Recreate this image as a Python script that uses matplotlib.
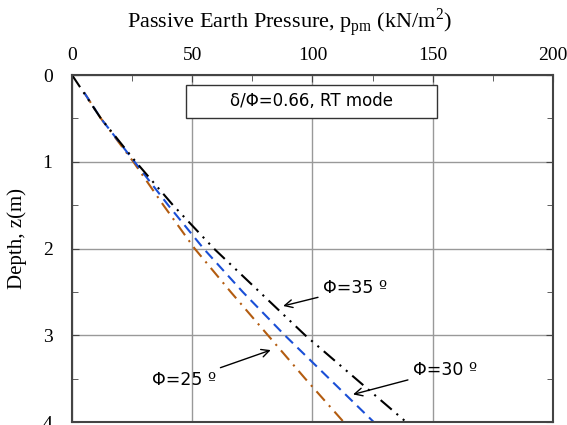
import matplotlib

matplotlib.use("Agg")
import matplotlib.pyplot as plt
from matplotlib.patches import Rectangle
from matplotlib.ticker import MultipleLocator

# depth (m) and passive earth pressure (kN/m2)
z_35 = [0.0, 0.5, 1.0, 1.5, 2.0, 2.5, 3.0, 3.5, 4.0]
p_35 = [0.0, 12.0, 26.5, 42.0, 59.0, 78.0, 97.0, 118.0, 139.0]
z_30 = [0.2, 0.5, 1.0, 1.5, 2.0, 2.5, 3.0, 3.5, 4.0]
p_30 = [5.0, 12.0, 26.0, 40.0, 54.7, 71.0, 88.5, 107.0, 125.5]
z_25 = [0.2, 0.5, 1.0, 1.5, 2.0, 2.5, 3.0, 3.5, 4.0]
p_25 = [5.0, 12.0, 25.5, 38.0, 51.0, 66.0, 81.5, 97.0, 113.0]

SERIF = "Liberation Serif"
SANS = "DejaVu Sans"
plt.rcParams["mathtext.fontset"] = "custom"
plt.rcParams["mathtext.rm"] = SERIF

fig = plt.figure(figsize=(5.67, 4.25), dpi=100)
ax = fig.add_axes([0.127, 0.007, 0.848, 0.8165])

ax.plot(p_25, z_25, color="#b35c10", lw=1.5, dashes=(6, 3, 1, 3))
ax.plot(p_30, z_30, color="#1a4fd6", lw=1.5, dashes=(5, 3))
ax.plot(p_35, z_35, color="black", lw=1.5, dashes=(7, 3, 1, 3, 1, 3))

ax.set_xlim(0, 200)
ax.set_ylim(4, 0)
ax.xaxis.set_major_locator(MultipleLocator(50))
ax.xaxis.set_minor_locator(MultipleLocator(25))
ax.yaxis.set_major_locator(MultipleLocator(1))
ax.yaxis.set_minor_locator(MultipleLocator(0.5))
ax.xaxis.tick_top()
ax.xaxis.set_label_position("top")
ax.tick_params(which="both", direction="in", top=True, bottom=False, left=True, right=True,
               color="#444444")
ax.tick_params(which="major", length=5, labelsize=14)
ax.tick_params(axis="x", which="major", pad=8)
ax.tick_params(axis="y", which="major", pad=14)
ax.tick_params(which="minor", length=4)
for lab in ax.get_xticklabels() + ax.get_yticklabels():
    lab.set_family(SERIF)
ax.grid(True, which="major", color="#999999", lw=1.0)
for s in ax.spines.values():
    s.set_color("#444444")
    s.set_linewidth(1.5)

ax.set_xlabel(r"Passive Earth Pressure, p$_{\rm pm}$ (kN/m$^{\rm 2}$)", family=SERIF,
              fontsize=16)
ax.xaxis.set_label_coords(0.453, 1.136)
ax.set_ylabel("Depth, z(m)", family=SERIF, fontsize=15)
ax.yaxis.set_label_coords(-0.094, 0.53)

ax.add_patch(Rectangle((47.5, 0.115), 104.5, 0.38, fc="white", ec="#333333", lw=1.0, zorder=5))
ax.text(99.6, 0.305, "δ/Φ=0.66, RT mode", ha="center", va="center", family=SANS,
        fontsize=12, zorder=6)

arrow = dict(arrowstyle="->", color="black", lw=1.0, mutation_scale=14)
ax.annotate("Φ=35 º", xy=(86.7, 2.67), xytext=(104.6, 2.455), ha="left", va="center",
            family=SANS, fontsize=12.5, arrowprops=arrow)
ax.annotate("Φ=30 º", xy=(115.8, 3.69), xytext=(142.0, 3.40), ha="left", va="center",
            family=SANS, fontsize=12.5, arrowprops=arrow)
ax.annotate("Φ=25 º", xy=(83.75, 3.16), xytext=(33.3, 3.52), ha="left", va="center",
            family=SANS, fontsize=12.5, arrowprops=arrow)

fig.savefig("out.png", dpi=100, facecolor="white")
